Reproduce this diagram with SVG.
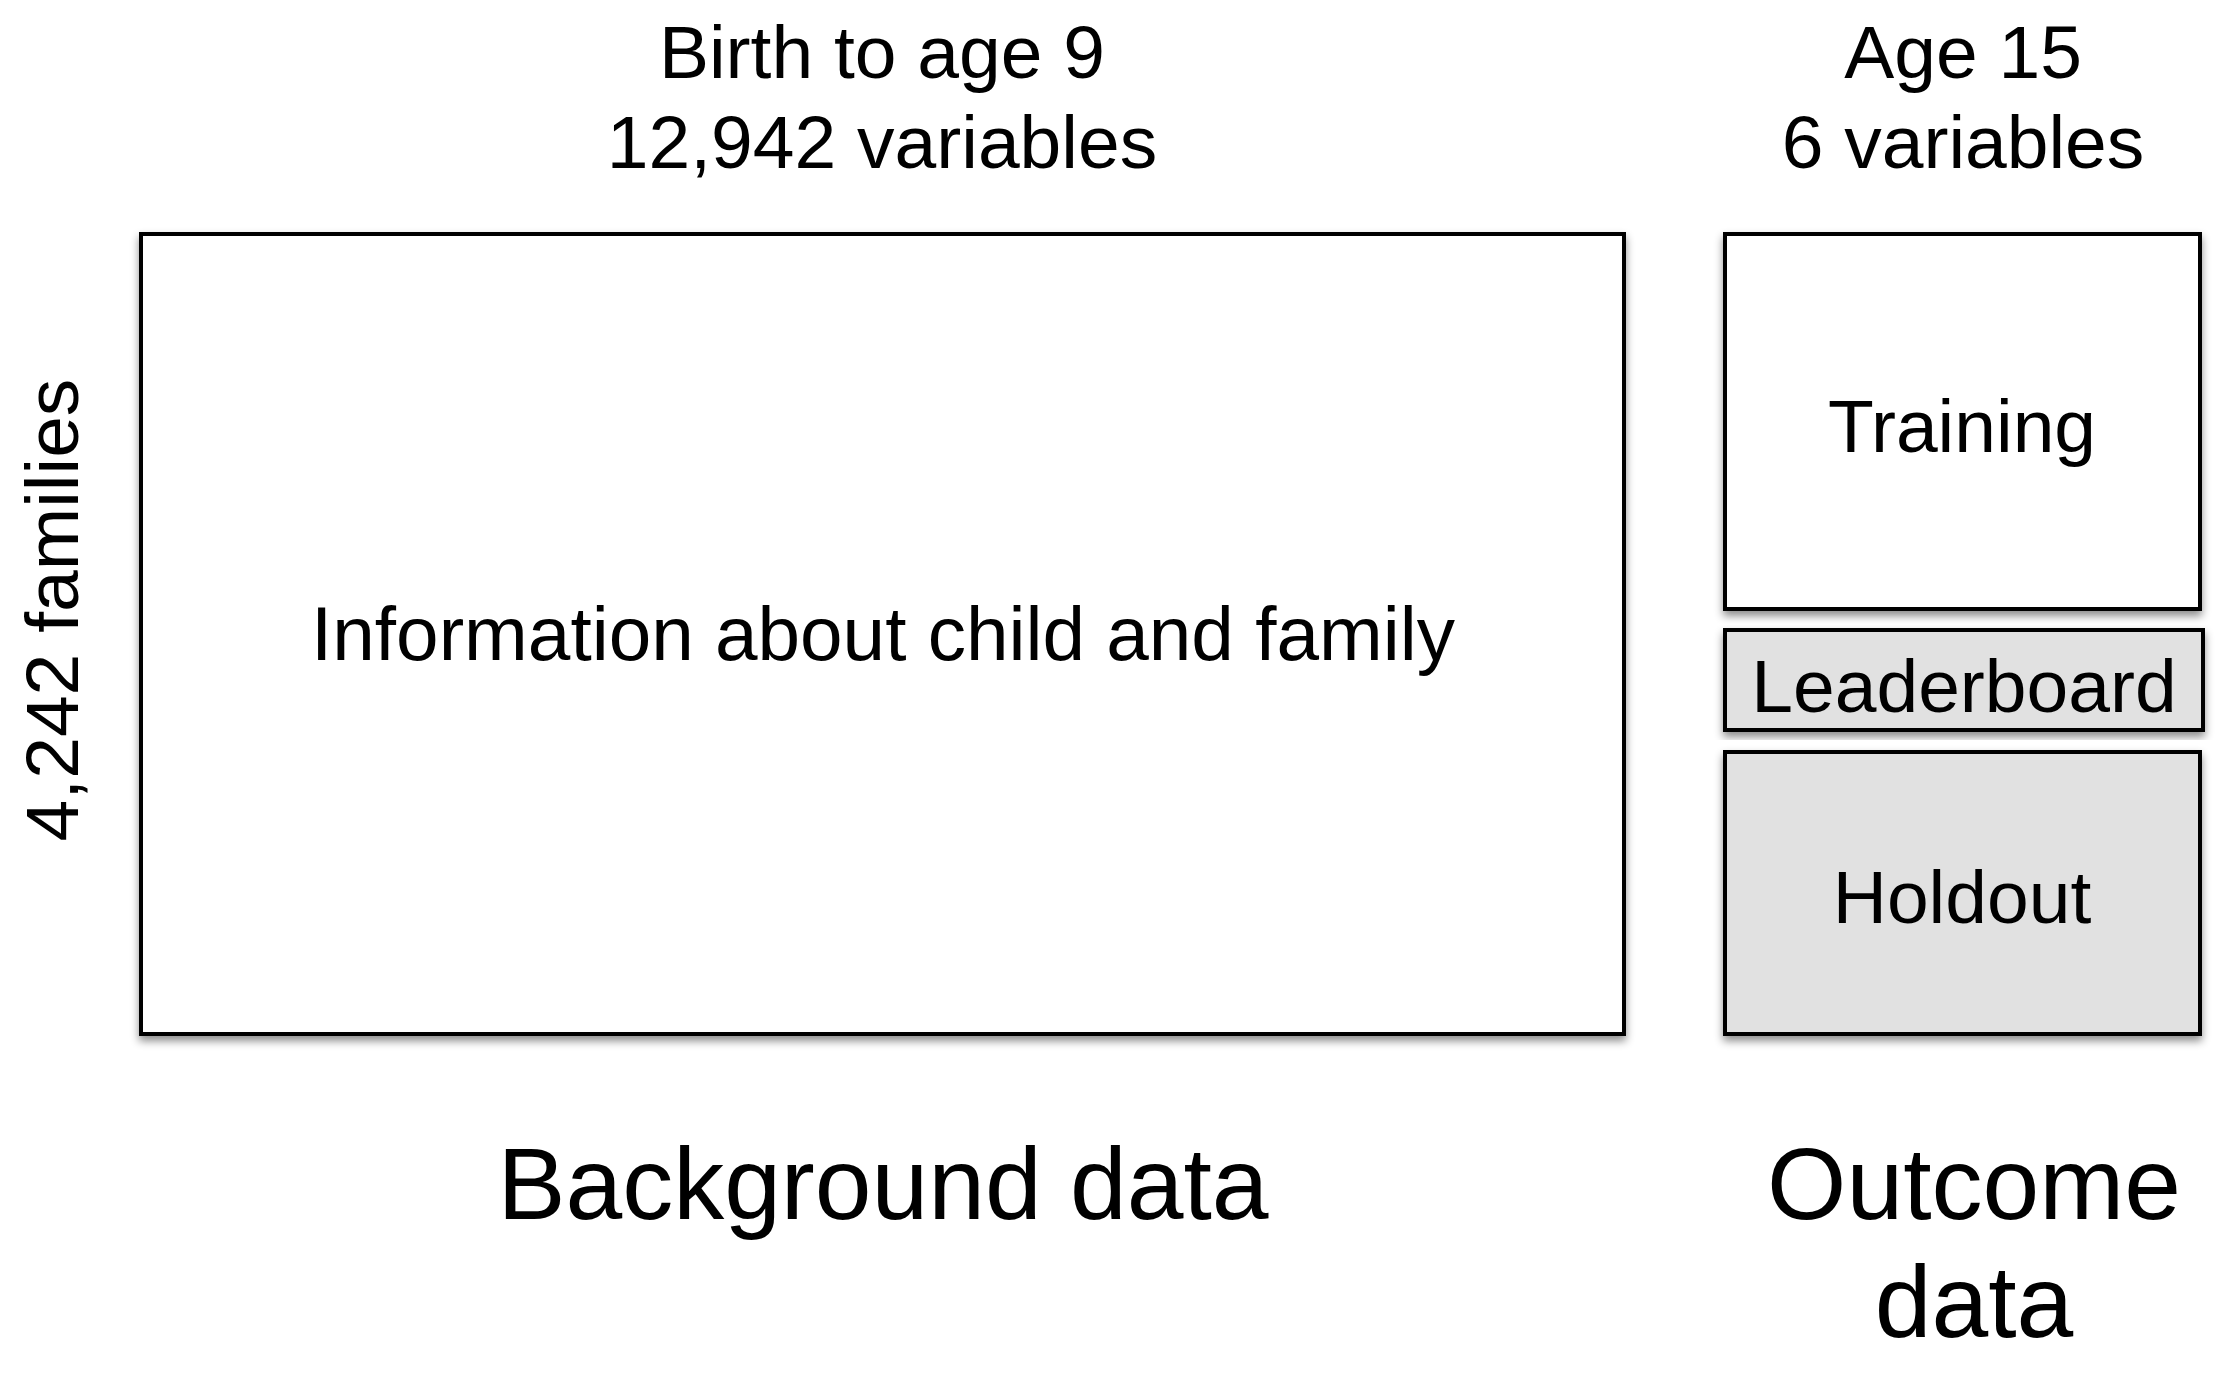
<svg xmlns="http://www.w3.org/2000/svg" width="2220" height="1383" viewBox="0 0 2220 1383">
  <defs>
    <filter id="shadow" x="-5%" y="-5%" width="110%" height="115%">
      <feDropShadow dx="0" dy="5" stdDeviation="4" flood-color="#000" flood-opacity="0.45"/>
    </filter>
  </defs>
  <style>
    text { font-family: "Liberation Sans", Arial, Helvetica, sans-serif; fill: #000; }
    .box { stroke: #000; stroke-width: 4; filter: url(#shadow); }
    .white { fill: #ffffff; }
    .grey { fill: #e1e1e1; }
    .lbl { font-size: 75px; text-anchor: middle; }
    .info { font-size: 76.5px; }
    .big { font-size: 102px; text-anchor: middle; }
  </style>
  <rect width="2220" height="1383" fill="#ffffff"/>

  <g id="header-background">
    <text class="lbl" x="882" y="78">Birth to age 9</text>
    <text class="lbl" x="882" y="168">12,942 variables</text>
  </g>
  <g id="header-outcome">
    <text class="lbl" x="1963" y="78">Age 15</text>
    <text class="lbl" x="1963" y="168">6 variables</text>
  </g>
  <g id="families-label">
    <text class="lbl" transform="translate(78,610) rotate(-90)" x="0" y="0">4,242 families</text>
  </g>

  <g id="background-box">
    <rect class="box white" x="141" y="234" width="1483" height="800"/>
    <text class="lbl info" x="883" y="660">Information about child and family</text>
  </g>
  <g id="training-box">
    <rect class="box white" x="1725" y="234" width="475" height="375"/>
    <text class="lbl" x="1962" y="452">Training</text>
  </g>
  <g id="leaderboard-box">
    <rect class="box grey" x="1725" y="630" width="478" height="100"/>
    <text class="lbl" x="1964" y="712">Leaderboard</text>
  </g>
  <g id="holdout-box">
    <rect class="box grey" x="1725" y="752" width="475" height="282"/>
    <text class="lbl" x="1962" y="923">Holdout</text>
  </g>

  <g id="footer-background">
    <text class="big" x="883" y="1219">Background data</text>
  </g>
  <g id="footer-outcome">
    <text class="big" x="1974" y="1219">Outcome</text>
    <text class="big" x="1974" y="1337">data</text>
  </g>
  <g id="connectors"></g>
</svg>
